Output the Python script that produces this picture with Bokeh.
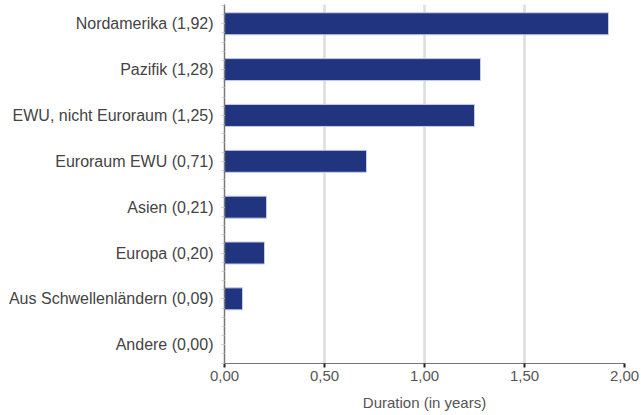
import numpy as np
from bokeh.plotting import figure
from bokeh.models import Range1d, FixedTicker, ColumnDataSource
from bokeh.embed import file_html
from bokeh.resources import INLINE

categories = ["Nordamerika (1,92)", "Pazifik (1,28)", "EWU, nicht Euroraum (1,25)",
              "Euroraum EWU (0,71)", "Asien (0,21)", "Europa (0,20)",
              "Aus Schwellenländern (0,09)", "Andere (0,00)"]
values = [1.92, 1.28, 1.25, 0.71, 0.21, 0.20, 0.09, 0.00]
x_ticks = [0.0, 0.5, 1.0, 1.5, 2.0]
x_tick_labels = ["0,00", "0,50", "1,00", "1,50", "2,00"]
x_label = "Duration (in years)"

idx = list(range(len(categories)))
src = ColumnDataSource(dict(y=idx, v=values))

FONT = "Liberation Sans"

p = figure(width=641, height=415, output_backend="svg", toolbar_location=None,
           x_range=Range1d(0, 2.0), y_range=Range1d(7.41, -0.42),
           min_border_left=224, min_border_right=17, min_border_top=4,
           min_border_bottom=52)
p.outline_line_color = None

p.hbar(y="y", left=0, right="v", height=0.48, source=src,
       fill_color="#213480", line_color="#c8cde3", line_width=1)

# x axis
p.xaxis.ticker = FixedTicker(ticks=x_ticks)
p.xaxis.major_label_overrides = {t: l for t, l in zip(x_ticks, x_tick_labels)}
p.xaxis.axis_label = x_label
p.xaxis.axis_label_text_font = FONT
p.xaxis.axis_label_text_font_style = "normal"
p.xaxis.axis_label_text_font_size = "15px"
p.xaxis.axis_label_text_color = "#555555"
p.xaxis.axis_label_standoff = 10
p.xaxis.major_label_text_font = FONT
p.xaxis.major_label_text_font_size = "15px"
p.xaxis.major_label_text_color = "#555555"
p.xaxis.major_label_standoff = 3
p.xaxis.axis_line_color = "#777777"
p.xaxis.major_tick_line_color = "#222222"
p.xaxis.major_tick_line_width = 2
p.xaxis.major_tick_out = 4
p.xaxis.major_tick_in = 0
p.xaxis.minor_tick_line_color = None

# y axis
minor = list(np.round(np.arange(-0.4, 7.41, 0.2), 3))
p.yaxis.ticker = FixedTicker(ticks=idx, minor_ticks=minor)
p.yaxis.major_label_overrides = {i: c for i, c in zip(idx, categories)}
p.yaxis.major_label_text_font = FONT
p.yaxis.major_label_text_font_size = "16px"
p.yaxis.major_label_text_color = "#444444"
p.yaxis.major_label_standoff = 8
p.yaxis.axis_line_color = "#777777"
p.yaxis.axis_line_width = 1.5
p.yaxis.major_tick_line_color = "#cccccc"
p.yaxis.major_tick_out = 3
p.yaxis.major_tick_in = 0
p.yaxis.minor_tick_line_color = "#cccccc"
p.yaxis.minor_tick_out = 3
p.yaxis.minor_tick_in = 0

p.ygrid.grid_line_color = None
p.xgrid.ticker = FixedTicker(ticks=x_ticks[1:])
p.xgrid.grid_line_color = "#dddddd"
p.xgrid.grid_line_width = 2.5

open("out.html", "w").write(file_html(p, INLINE))
